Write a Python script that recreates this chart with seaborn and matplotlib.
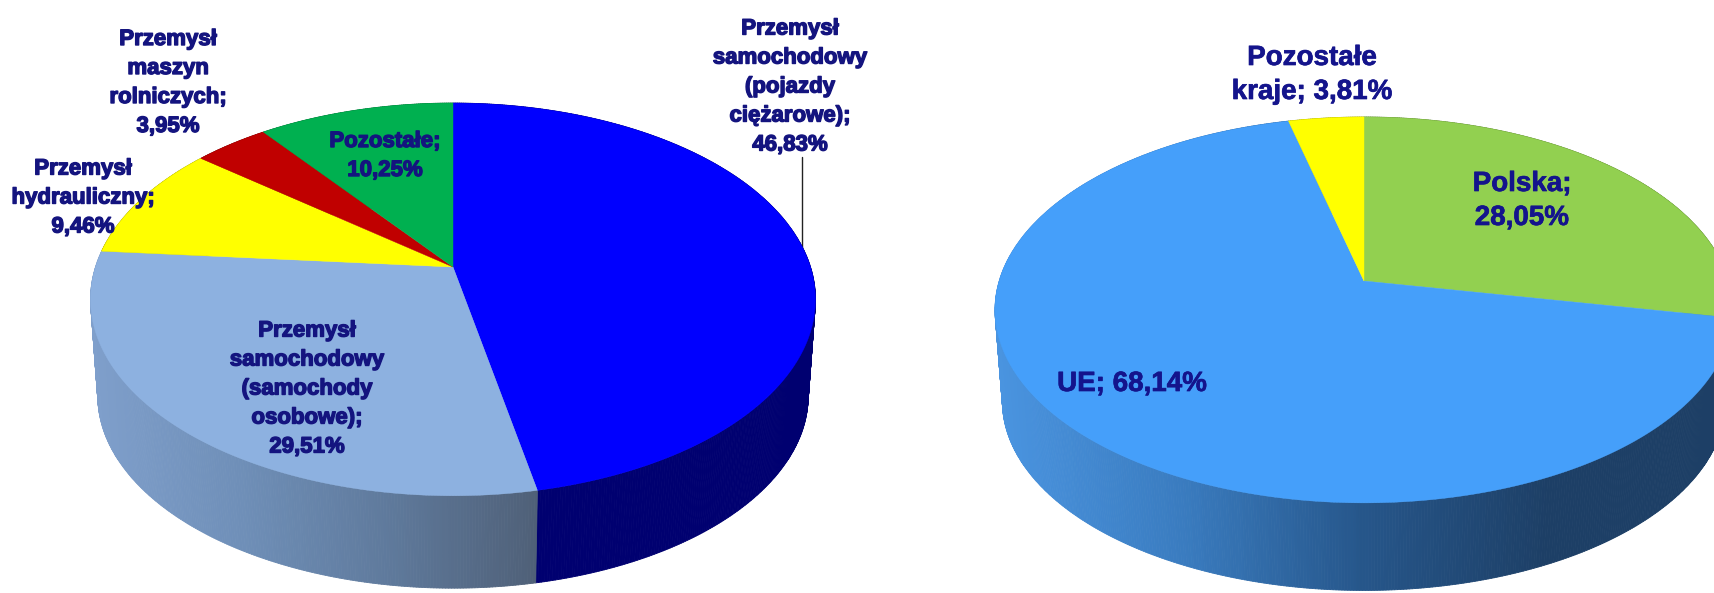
import numpy as np
import matplotlib
matplotlib.use("Agg")
import matplotlib.pyplot as plt
import matplotlib.patheffects as pe
from matplotlib.collections import PolyCollection
import seaborn as sns

# Data left chart (industries)
left_values = [46.83, 29.51, 9.46, 3.95, 10.25]
left_labels = ["Przemysł\nsamochodowy\n(pojazdy\nciężarowe);\n46,83%",
               "Przemysł\nsamochodowy\n(samochody\nosobowe);\n29,51%",
               "Przemysł\nhydrauliczny;\n9,46%",
               "Przemysł\nmaszyn\nrolniczych;\n3,95%",
               "Pozostałe;\n10,25%"]
left_colors = ["#0000FF", "#8DB1E0", "#FFFF00", "#C00000", "#00B050"]
left_walls = [["#000070", "#000070"],
              ["#7F9FCB", "#6F8FB8", "#5F7A9C", "#4F6078"],
              ["#A0A000", "#A0A000"],
              ["#780000", "#780000"],
              ["#006E32", "#006E32"]]

# Data right chart (countries)
right_values = [28.05, 68.14, 3.81]
right_labels = ["Polska;\n28,05%", "UE; 68,14%", "Pozostałe\nkraje; 3,81%"]
right_colors = ["#92D050", "#459FFA", "#FFFF00"]
right_walls = [["#5C8332", "#5C8332"],
               ["#4A94E0", "#3A7CC0", "#26568A", "#1D3F66", "#1D3F66"],
               ["#A0A000", "#A0A000"]]

text_color = "#14147F"

sns.set_theme(style="white")
plt.rcParams["font.family"] = ["Liberation Sans", "DejaVu Sans"]

fig = plt.figure(figsize=(17.15, 5.93), dpi=100)
ax = fig.add_axes([0, 0, 1, 1])
ax.set_xlim(0, 1715)
ax.set_ylim(593, 0)
ax.axis("off")


def project(t, cx, cy, a, b, k, scale=1.0, shift=0.0):
    # perspective view of the disc, t in radians clockwise from 12 o'clock
    denom = 1 + k * np.cos(t)
    x = cx + scale * a * np.sin(t) / denom
    y = cy - scale * b * np.cos(t) / denom + shift
    return x, y


def pie3d(values, colors, walls, cx, cy, a, b, k, depth):
    edges = np.cumsum([0] + list(values)) / np.sum(values) * 2 * np.pi

    # side wall first, far strips before near ones
    quads, quad_colors, quad_depth = [], [], []
    for i in range(len(values)):
        n = max(int((edges[i + 1] - edges[i]) / np.radians(0.4)), 2)
        ts = np.linspace(edges[i], edges[i + 1], n + 1)
        x0, y0 = project(ts, cx, cy, a, b, k)
        x1, y1 = project(ts, cx, cy, a, b, k, scale=0.98, shift=depth)
        pal = sns.blend_palette(walls[i], n_colors=200)
        # the shade follows the horizontal position inside the slice
        frac = (x0 - x0.min()) / (x0.max() - x0.min())
        for j in range(n):
            quads.append([(x0[j], y0[j]), (x0[j + 1], y0[j + 1]),
                          (x1[j + 1], y1[j + 1]), (x1[j], y1[j])])
            quad_colors.append(pal[min(int(frac[j] * 199), 199)])
            quad_depth.append(np.cos(ts[j]))
    order = np.argsort(quad_depth)[::-1]
    ax.add_collection(PolyCollection([quads[o] for o in order],
                                     facecolors=[quad_colors[o] for o in order],
                                     edgecolors=[quad_colors[o] for o in order],
                                     linewidths=0.6, zorder=2))

    # top face
    for i in range(len(values)):
        ts = np.linspace(edges[i], edges[i + 1], 300)
        x, y = project(ts, cx, cy, a, b, k)
        ax.fill(np.r_[cx, x], np.r_[cy, y], color=colors[i], lw=0.3, zorder=3)


pie3d(left_values, left_colors, left_walls, 453, 267, 357.5, 191, 0.165, 97)
pie3d(right_values, right_colors, right_walls, 1364, 281, 364.8, 188.6, 0.15, 92)

# leader line of the biggest slice
ax.plot([802, 802], [157, 248], color="#222222", lw=1, zorder=1)

# Labels left
left_pos = [(790, 87), (307, 389), (83, 198), (168, 83), (385, 156)]
for txt, (x, y) in zip(left_labels, left_pos):
    ax.text(x, y, txt, ha="center", va="center", fontsize=16, fontweight="bold",
            color=text_color, linespacing=1.5, zorder=5,
            path_effects=[pe.withStroke(linewidth=1.0, foreground=text_color)])

# Labels right
right_pos = [(1522, 201), (1132, 384), (1312, 75)]
for txt, (x, y) in zip(right_labels, right_pos):
    ax.text(x, y, txt, ha="center", va="center", fontsize=20, fontweight="bold",
            color="#14148C", linespacing=1.4, zorder=5,
            path_effects=[pe.withStroke(linewidth=0.5, foreground="#14148C")])

plt.savefig("out.png", dpi=100)
